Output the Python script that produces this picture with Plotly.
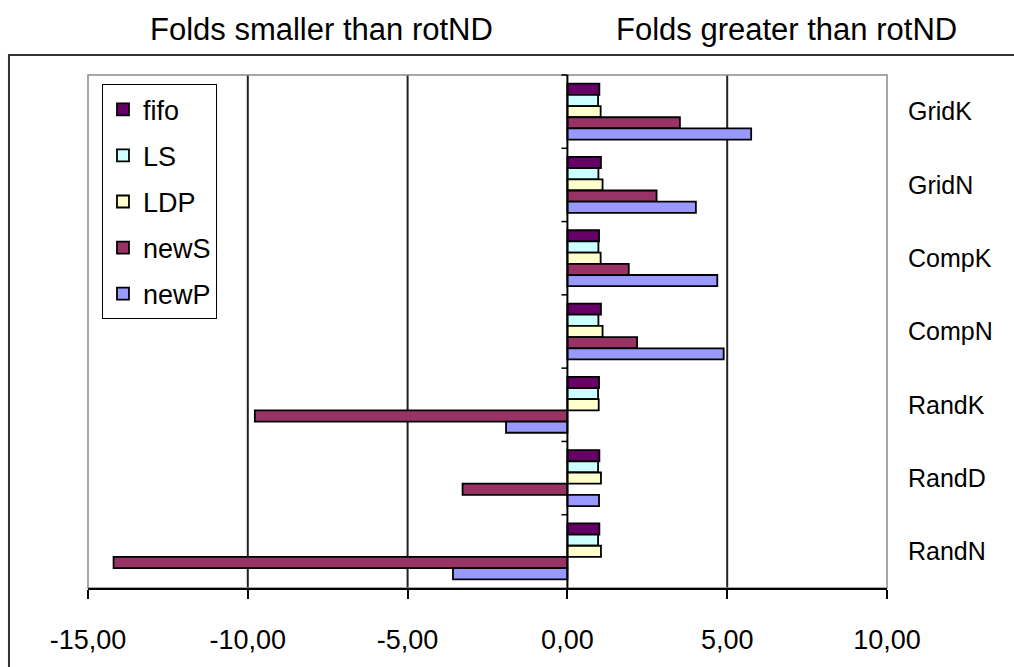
import plotly.graph_objects as go

# Graph types (top to bottom) and the five scheduling variants
categories = ["GridK", "GridN", "CompK", "CompN", "RandK", "RandD", "RandN"]
series_names = ["fifo", "LS", "LDP", "newS", "newP"]

fifo = [1.00, 1.05, 0.99, 1.05, 0.99, 1.00, 1.00]
ls = [0.96, 0.97, 0.97, 0.97, 0.96, 0.96, 0.96]
ldp = [1.04, 1.10, 1.04, 1.10, 0.98, 1.05, 1.05]
news = [3.52, 2.79, 1.92, 2.18, -9.78, -3.28, -14.20]
newp = [5.75, 4.02, 4.69, 4.89, -1.92, 0.99, -3.58]

tick_values = [-15, -10, -5, 0, 5, 10]
tick_labels = ["-15,00", "-10,00", "-5,00", "0,00", "5,00", "10,00"]
grid_values = [-10, -5, 5]

colors = ["#660066", "#CCFFFF", "#FFFFCC", "#993366", "#9999FF"]
FONT = "Liberation Sans, Arial, sans-serif"

fig = go.Figure()
for name, vals, col in zip(series_names, [fifo, ls, ldp, news, newp], colors):
    fig.add_trace(go.Bar(
        y=categories, x=vals, name=name, orientation="h",
        marker=dict(color=col, line=dict(color="#000000", width=1.8)),
        legendgroup=name,
    ))

shapes = []
# vertical grid lines
for g in grid_values:
    shapes.append(dict(type="line", xref="x", yref="paper", x0=g, x1=g, y0=0, y1=1,
                       line=dict(color="#222222", width=2), layer="below"))
# plot area border (grey)
shapes.append(dict(type="rect", xref="paper", yref="paper", x0=0, x1=1, y0=0, y1=1,
                   line=dict(color="#8c8c8c", width=1.5), layer="below"))
# vertical category axis at zero with boundary ticks
shapes.append(dict(type="line", xref="x", yref="paper", x0=0, x1=0, y0=0, y1=1,
                   line=dict(color="#000000", width=2)))
n = len(categories)
for k in range(1, n + 1):
    shapes.append(dict(type="line", xref="x", yref="paper", xsizemode="pixel", xanchor=0,
                       x0=-6, x1=0, y0=k / n, y1=k / n,
                       line=dict(color="#000000", width=1.5)))
# outer chart border
shapes.append(dict(type="rect", xref="paper", yref="paper",
                   x0=-0.0989, x1=1.5, y0=-0.5, y1=1.039,
                   line=dict(color="#333333", width=2), fillcolor="rgba(0,0,0,0)"))

annotations = [
    dict(text="Folds smaller than rotND", xref="paper", yref="paper", x=0.292, y=1.088,
         xanchor="center", yanchor="middle", showarrow=False,
         font=dict(family=FONT, size=31, color="#000000")),
    dict(text="Folds greater than rotND", xref="paper", yref="paper", x=0.8736, y=1.088,
         xanchor="center", yanchor="middle", showarrow=False,
         font=dict(family=FONT, size=31, color="#000000")),
]

fig.update_layout(
    width=1014, height=667,
    margin=dict(l=88, r=127, t=75, b=79),
    paper_bgcolor="#ffffff", plot_bgcolor="#ffffff",
    barmode="group", bargap=0.237, bargroupgap=0,
    font=dict(family=FONT, size=26, color="#000000"),
    shapes=shapes, annotations=annotations,
    legend=dict(
        x=0.0175, y=0.982, xanchor="left", yanchor="top",
        bgcolor="#ffffff", bordercolor="#000000", borderwidth=1,
        font=dict(family=FONT, size=27, color="#000000"),
        tracegroupgap=8, traceorder="grouped",
    ),
    xaxis=dict(
        range=[-15, 10], tickvals=tick_values, ticktext=tick_labels,
        showgrid=False, zeroline=False,
        showline=True, linecolor="#000000", linewidth=2,
        ticks="outside", ticklen=9, tickwidth=1.5, tickcolor="#000000",
        ticklabelstandoff=18,
        tickfont=dict(family=FONT, size=27, color="#000000"),
    ),
    yaxis=dict(
        categoryorder="array", categoryarray=categories, autorange="reversed",
        side="right", showgrid=False, zeroline=False, showline=False, ticks="",
        ticklabelstandoff=20,
        tickfont=dict(family=FONT, size=25, color="#000000"),
    ),
)

fig.write_html("out.html")
